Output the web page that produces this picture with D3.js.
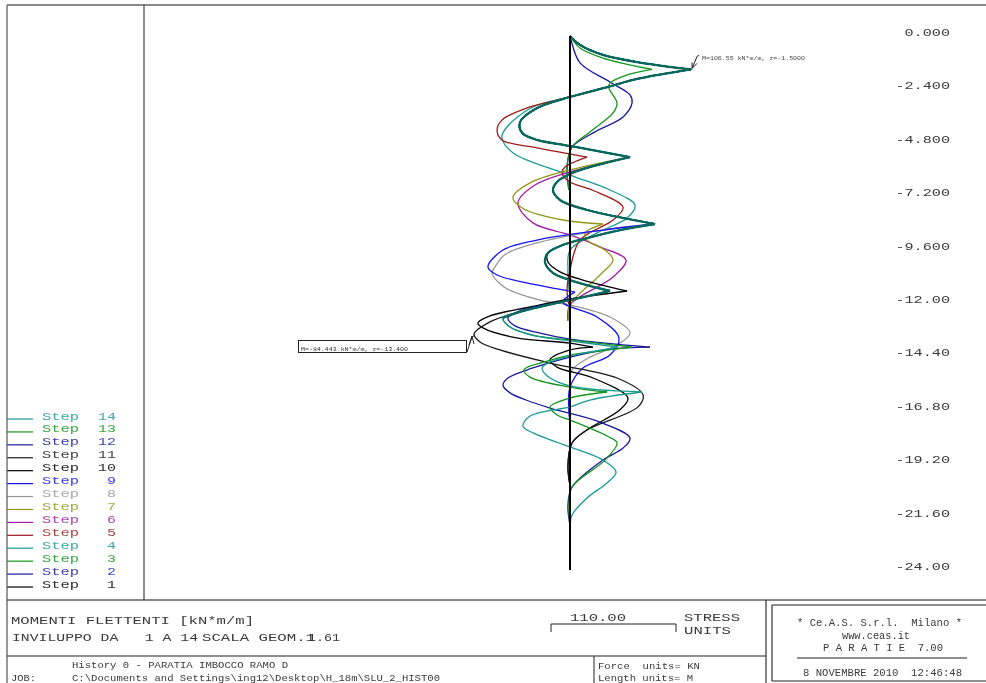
<!DOCTYPE html>
<html>
<head>
<meta charset="utf-8">
<script src="https://cdn.jsdelivr.net/npm/d3@7"></script>
<style>
  html, body { margin: 0; padding: 0; background: #fff; overflow: hidden; }
  text { font-family: "Liberation Mono", monospace; fill: #3a3a3a; }
</style>
</head>
<body>
<div id="vis"></div>
<script>
// values, each pair is [depth in m, moment in kN*m/m]
const tickDepths = [0, 2.4, 4.8, 7.2, 9.6, 12, 14.4, 16.8, 19.2, 21.6, 24]
const tickLabels = ["0.000", "-2.400", "-4.800", "-7.200", "-9.600", "-12.00", "-14.40", "-16.80", "-19.20", "-21.60", "-24.00"]
const stepNumbers = [14, 13, 12, 11, 10, 9, 8, 7, 6, 5, 4, 3, 2, 1]
const stepColors = {1: "#000", 2: "#1a1a9c", 3: "#14961e", 4: "#1a9a96", 5: "#9c1a1a", 6: "#a01ea0", 7: "#96961a", 8: "#969696", 9: "#1414f0", 10: "#000", 11: "#1a1a1a", 12: "#1a1a9c", 13: "#14961e", 14: "#1a9a96"}

// parts several steps have in common
const arcTop = [[0,0],[.4,8.8],[.85,29],[1.17,59],[1.5,106.55]]
const arcDown = [[1.5,106.55],[1.93,59],[2.29,33.5],[2.74,0],[3.24,-29],[3.87,-44],[4.36,-42],[4.67,-29],[4.94,0],[5.44,52.8]]
const arcC = [[5.44,52.8],[5.8,23.8],[6.2,0],[6.56,-11.4],[6.92,-15],[7.37,-8.8],[7.82,15],[8.45,74.8]]
const arcD = [[8.45,74.8],[8.72,44],[9.08,15],[9.39,-6.2],[9.75,-19.4],[10.16,-22],[10.65,-15],[10.97,0],[11.46,35.2]]
const arcE = [[11.46,35.2],[11.87,0],[12.4,-44],[12.67,-59]]

const step1 = [[0,0],[24,0]]
const step2 = [[0,0],[.18,.9],[1.21,8.8],[2.07,35.2],[2.65,52.8],[3.01,54.6],[3.64,46.7],[4.31,22],[4.99,1.8],[5.57,-1.8],[6.25,-2.6],[6.92,-.9]]
const step3a = [[0,0],[.54,8.8],[.99,29],[1.5,72.2]]
const step3b = [[1.5,72.2],[1.75,50.2],[2.11,35.2],[2.34,34.3],[3.01,41.4],[3.46,37.9],[4.31,17.6],[4.99,1.8],[5.8,-2.6],[6.92,-.9]]
const step4 = [[1.5,106.55],[1.93,59],[2.29,33.5],[2.74,0],[3.19,-32.6],[4.09,-55.5],[4.54,-60],[5.26,-50],[6.25,0],[6.92,35.2],[7.6,57.2],[8.18,50.2],[8.85,23.8],[9.62,0],[10.5,-1.8],[11.4,-.9]]
const step5a = [[1.5,106.55],[1.93,59],[2.29,33.5],[2.74,0],[3.19,-35.2],[3.78,-59.9],[4.22,-64.2],[4.67,-59.9],[5.03,-29],[5.44,15]]
const step5b = [[5.44,15],[5.89,-4.4],[6.16,-7],[6.56,0],[6.92,19.4],[7.7,46.7],[8.27,37.9],[9.17,8.8],[10.52,0],[11.4,-2.6],[12.1,-.9]]
const step6 = [[5.44,52.8],[6.11,0],[6.7,-30.8],[7.5,-45.8],[8.4,-32.6],[8.94,0],[9.48,26.4],[10.07,49.3],[10.83,37.9],[12.09,0],[12.8,-1.8]]
const step7a = [[5.44,52.8],[6.02,0],[6.6,-35.2],[7.25,-50.2],[7.75,-41.4],[8.27,-6],[8.45,29]]
const step7b = [[8.45,29],[8.85,13.2],[9.17,15],[9.62,30.8],[10.07,37.9],[10.74,26.4],[12.09,0],[12.8,-.9]]
const step8 = [[8.45,74.8],[8.72,29],[9.26,-26.4],[9.82,-57.2],[10.38,-66],[10.65,-68.6],[11.28,-58.1],[11.87,-26.4],[12.09,0],[12.63,35.2],[13.35,52.8],[13.89,41.4],[14.43,17.6],[15,1.8],[15.4,0]]
const step9a = [[8.45,74.8],[8.72,29],[9.17,-29],[9.62,-59],[10.38,-72.2],[10.74,-64.2],[11.19,-29],[11.51,4.4]]
const step9b = [[11.51,4.4],[11.96,-6.2],[12.63,23.8],[13.57,43.1],[14.34,35.2],[14.92,11.4],[15.78,0],[16.95,-.9],[17.35,0]]
const step10a = [[8.45,74.8],[8.72,44],[9.08,15],[9.39,-6.2],[9.75,-19.4],[10.16,-19.4],[10.6,-8.8],[10.97,11.4],[11.46,50.2]]
const step10b = [[11.46,50.2],[11.82,0],[12.18,-35.2],[12.58,-70.4],[12.9,-81],[13.12,-76.6],[13.57,-46.8],[13.8,0],[13.98,20.2]]
const step10c = [[13.98,20.2],[14.11,0],[14.56,-17.6],[14.88,-11.4],[15.37,20.2],[16.27,51],[16.8,44],[17.7,15],[18.29,1.8],[19.3,-1.8],[20.2,0]]
const step11 = [[11.46,35.2],[11.87,0],[12.4,-44],[12.85,-70.4],[13.4,-84.44],[13.75,-79.2],[14.11,-61.6],[14.7,-17.6],[15.37,41.4],[16.13,64.3],[16.67,59.8],[17.71,15],[18.29,1.8],[19.3,-1.8],[20.2,0]]
const step12a = [[11.46,35.2],[11.87,0],[12.35,-44],[12.67,-54.6],[13.03,-48.4],[13.35,-26.4],[13.62,0],[13.98,70.4]]
const step12b = [[13.98,70.4],[14.07,35.2],[14.43,0],[14.92,-32.6],[15.37,-54.6],[15.69,-59],[16.04,-52.8],[16.36,-38.7],[16.72,-17.6],[17.35,26.4],[18.07,52.8],[18.52,46.7],[19.06,29],[20.27,1.8],[21.08,-1.8],[21.98,0]]
const step13a = [[11.46,35.2],[11.87,0],[12.4,-44],[12.67,-59],[13.08,-52.8],[13.44,-32.6],[13.66,0],[13.98,54.6]]
const step13b = [[13.98,54.6],[14.16,26.4],[14.34,0],[14.61,-20],[15,-40.5],[15.33,-35.2],[15.78,0],[16,32.6]]
const step13c = [[16,32.6],[16.27,0],[16.67,-17.6],[17.03,-11.4],[17.26,0],[17.98,32.6],[18.29,41.4],[19.06,30.8],[20.27,1.8],[21.1,-.9],[22,0]]
const step14a = [[11.46,35.2],[11.87,0],[12.4,-44],[12.67,-59],[13.08,-52.8],[13.44,-34],[13.7,0],[13.98,42]]
const step14b = [[13.98,42],[14.38,0],[14.7,-19.4],[14.92,-24.6],[15.28,-20],[15.73,0],[16,63.4]]
const step14c = [[16,63.4],[16.36,17.6],[16.67,0],[17.08,-35.2],[17.53,-41.4],[17.84,-32.6],[18.47,0],[19.06,29],[19.6,40.5],[20.09,32.6],[20.76,15],[21.53,1.8],[22,0],[23.03,0]]

// which pieces make up each step, the cusps split a step into pieces
const stepArcs = {
    1: [step1],
    2: [step2],
    3: [step3a, step3b],
    4: [arcTop, step4],
    5: [arcTop, step5a, step5b],
    6: [arcTop, arcDown, step6],
    7: [arcTop, arcDown, step7a, step7b],
    8: [arcTop, arcDown, arcC, step8],
    9: [arcTop, arcDown, arcC, step9a, step9b],
    10: [arcTop, arcDown, arcC, step10a, step10b, step10c],
    11: [arcTop, arcDown, arcC, arcD, step11],
    12: [arcTop, arcDown, arcC, arcD, step12a, step12b],
    13: [arcTop, arcDown, arcC, arcD, step13a, step13b, step13c],
    14: [arcTop, arcDown, arcC, arcD, step14a, step14b, step14c]
}
const sharedArcs = [arcTop, arcDown, arcC, arcD, arcE]

const width = 986
const height = 683

//the reference is a slightly soft scan, a small blur brings the whole page close to it
const svg = d3.select("#vis")
    .append("svg")
    .attr("width", width)
    .attr("height", height)
    .style("display", "block")
    .style("filter", "blur(0.35px)")

svg.append("rect").attr("width", width).attr("height", height).attr("fill", "#fff")

//scales, the bar under the plot says 110 units is 125 px
const x = d3.scaleLinear().domain([0, 110]).range([570, 695])
const y = d3.scaleLinear().domain([0, 24]).range([36, 570])

const line = d3.line()
    .x(d => x(d[1]))
    .y(d => y(d[0]))
    .curve(d3.curveCatmullRom.alpha(0.5))

//curves, oldest step first so step 14 ends on top
const plot = svg.append("g").attr("fill", "none")
d3.range(1, 15).forEach(step => {
    plot.append("g")
        .attr("stroke", stepColors[step])
        .attr("stroke-width", 1.3)
        .selectAll("path")
        .data(stepArcs[step])
        .enter()
        .append("path")
        .attr("d", line)
})

//where the steps run on top of each other it reads as one heavy line
plot.append("g")
    .attr("stroke", "#07695e")
    .attr("stroke-width", 2.3)
    .selectAll("path")
    .data(sharedArcs)
    .enter()
    .append("path")
    .attr("d", line)

//the wall
svg.append("line")
    .attr("x1", x(0)).attr("x2", x(0))
    .attr("y1", y(0)).attr("y2", y(24))
    .attr("stroke", "#000")
    .attr("stroke-width", 2)

//every label is the same mono font pulled out to the width of the original
function label(px, py, str, size, w) {
    return svg.append("text")
        .attr("x", px)
        .attr("y", py)
        .attr("font-size", size)
        .attr("textLength", w)
        .attr("lengthAdjust", "spacingAndGlyphs")
        .attr("xml:space", "preserve")
        .style("white-space", "pre")
        .text(str)
}

function rule(x1, y1, x2, y2, color, w) {
    svg.append("line")
        .attr("x1", x1).attr("y1", y1)
        .attr("x2", x2).attr("y2", y2)
        .attr("stroke", color || "#222")
        .attr("stroke-width", w || 1)
}

//depth axis on the right
const axis = svg.append("g")
    .attr("transform", "translate(950,-4)")
    .call(d3.axisRight(y).tickValues(tickDepths).tickSize(0).tickFormat((d, i) => tickLabels[i]))
axis.select(".domain").remove()
axis.selectAll("text")
    .attr("x", 0)
    .attr("text-anchor", "end")
    .attr("font-size", 11)
    .attr("font-family", "Liberation Mono")
    .attr("textLength", (d, i) => tickLabels[i].length * 9.1)
    .attr("lengthAdjust", "spacingAndGlyphs")

//legend
const legendY = d3.scaleLinear().domain([14, 1]).range([416, 584])
const legend = svg.append("g")
stepNumbers.forEach(step => {
    const yy = legendY(step)
    legend.append("line")
        .attr("x1", 7).attr("x2", 33)
        .attr("y1", yy + 3).attr("y2", yy + 3)
        .attr("stroke", stepColors[step])
        .attr("stroke-width", 1.2)
    legend.append("text")
        .attr("x", 42).attr("y", yy + 3.5)
        .attr("font-size", 11.5)
        .attr("textLength", 37)
        .attr("lengthAdjust", "spacingAndGlyphs")
        .style("fill", stepColors[step])
        .style("fill-opacity", 0.85)
        .text("Step")
    legend.append("text")
        .attr("x", 116).attr("y", yy + 3.5)
        .attr("text-anchor", "end")
        .attr("font-size", 11.5)
        .attr("textLength", String(step).length * 9)
        .attr("lengthAdjust", "spacingAndGlyphs")
        .style("fill", stepColors[step])
        .style("fill-opacity", 0.85)
        .text(step)
})

//frame
rule(7, 5, 986, 5, "#111")
rule(7, 5, 7, 683, "#555", 1.2)
rule(144, 5, 144, 600, "#444", 1.2)
rule(7, 600, 986, 600, "#111")
rule(7, 656, 766, 656, "#222")
rule(594, 656, 594, 683, "#222")
rule(766, 600, 766, 683, "#333", 1.2)
rule(772, 605, 986, 605, "#222", 1.2)
rule(772, 605, 772, 681, "#333", 1.2)
rule(772, 681, 986, 681, "#222", 1.2)

//title block
label(11, 624, "MOMENTI FLETTENTI [kN*m/m]", 11.5, 243)
label(12, 641, "INVILUPPO DA   1 A 14", 11.5, 186)
label(202, 641, "SCALA GEOM.1", 11.5, 113)
label(308, 641, "1.61", 11.5, 32)
label(72, 668, "History 0 - PARATIA IMBOCCO RAMO D", 9.5, 216)
label(11, 680.5, "JOB:", 9.5, 25)
label(72, 680.5, "C:\\Documents and Settings\\ing12\\Desktop\\H_18m\\SLU_2_HIST00", 9.5, 368)
label(598, 669, "Force  units= KN", 9.5, 102)
label(598, 680.5, "Length units= M", 9.5, 95)

//scale bar
rule(551, 624, 676, 624)
rule(551, 624, 551, 632)
rule(676, 624, 676, 632)
label(570, 621, "110.00", 11.5, 56)
label(684, 621, "STRESS", 11.5, 56)
label(684, 634, "UNITS", 11.5, 47)

//company box
label(797, 626, "* Ce.A.S. S.r.l.  Milano *", 10, 165)
label(842, 639, "www.ceas.it", 10, 68)
label(823, 651, "P A R A T I E  7.00", 10, 120)
rule(797, 658, 967, 658)
label(803, 676, "8 NOVEMBRE 2010  12:46:48", 10, 159)

//callouts for the two extremes
const callout = svg.append("g").attr("fill", "none").attr("stroke", "#222").attr("stroke-width", 1)
callout.append("path")
    .attr("d", `M${x(106.55) + 8},${y(1.5) - 14} L${x(106.55) + 6},${y(1.5) - 13} L${x(106.55) + 1},${y(1.5) - 1} M${x(106.55) + 1},${y(1.5) - 7} L${x(106.55) + 1},${y(1.5) - 1} L${x(106.55) + 6},${y(1.5) - 6}`)
label(702, 59.5, "M=106.55 kN*m/m, z=-1.5000", 6, 103).style("fill", "#444")

callout.append("rect")
    .attr("x", 298.5).attr("y", 340.5)
    .attr("width", 168).attr("height", 12)
callout.append("path")
    .attr("d", "M467,352 L472,337 L475,335 M469,345 L472,336 L474,344")
label(301, 350.5, "M=-84.443 kN*m/m, z=-13.400", 6, 107).style("fill", "#333")
</script>
</body>
</html>
